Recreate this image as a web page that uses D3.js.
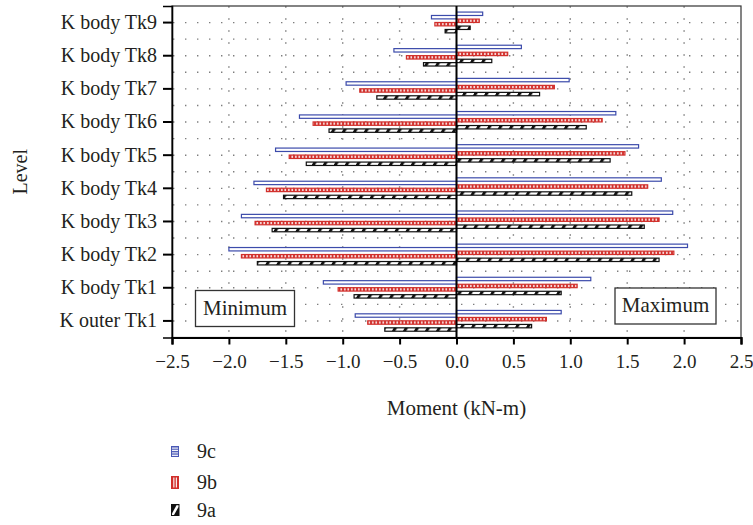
<!DOCTYPE html>
<html>
<head>
<meta charset="utf-8">
<script src="https://cdn.jsdelivr.net/npm/d3@7"></script>
<style>
  body { margin: 0; background: #fff; }
  svg { display: block; }
  text { font-family: "Liberation Serif", "Times New Roman", serif; fill: #231f20; }
</style>
</head>
<body>
<svg id="chart" width="753" height="525"></svg>
<script>
// Levels, top to bottom
const levels = ["K body Tk9", "K body Tk8", "K body Tk7", "K body Tk6", "K body Tk5",
                "K body Tk4", "K body Tk3", "K body Tk2", "K body Tk1", "K outer Tk1"];
const seriesNames = ["9c", "9b", "9a"];

// Minimum moments (kN-m)
const min9c = [-0.22, -0.55, -0.97, -1.38, -1.59, -1.78, -1.89, -2.00, -1.17, -0.89];
const min9b = [-0.19, -0.44, -0.85, -1.26, -1.47, -1.67, -1.77, -1.89, -1.04, -0.78];
const min9a = [-0.10, -0.29, -0.70, -1.12, -1.32, -1.52, -1.62, -1.75, -0.90, -0.63];
// Maximum moments (kN-m)
const max9c = [0.23, 0.57, 0.99, 1.40, 1.60, 1.80, 1.90, 2.03, 1.18, 0.92];
const max9b = [0.20, 0.45, 0.86, 1.28, 1.48, 1.68, 1.78, 1.91, 1.06, 0.79];
const max9a = [0.12, 0.31, 0.73, 1.14, 1.35, 1.54, 1.65, 1.78, 0.92, 0.66];

const xTicks = [-2.5, -2.0, -1.5, -1.0, -0.5, 0.0, 0.5, 1.0, 1.5, 2.0, 2.5];

const svg = d3.select("#chart");
const plot = { left: 172, right: 741, top: 6, bottom: 337.5 };

const x = d3.scaleLinear().domain([-2.5, 2.5]).range([plot.left, plot.right]);
const y = d3.scaleBand().domain(levels).range([plot.top, plot.bottom]).padding(0);
// position of each series inside a level band
const sub = d3.scalePoint().domain(seriesNames).range([-7, 7]);
const sideShift = { max: -1.8, min: 1.6 };
const barH = 3.4;

// ---- patterns ----
const defs = svg.append("defs");
const pB = defs.append("pattern").attr("id", "fill9b").attr("patternUnits", "userSpaceOnUse")
  .attr("width", 3.5).attr("height", 10);
pB.append("rect").attr("width", 3.5).attr("height", 10).attr("fill", "#d12f2b");
pB.append("rect").attr("x", 1.1).attr("width", 1.4).attr("height", 10).attr("fill", "#fff");

const pA = defs.append("pattern").attr("id", "fill9a").attr("patternUnits", "userSpaceOnUse")
  .attr("width", 11).attr("height", 10).attr("patternTransform", "skewX(-30)");
pA.append("rect").attr("width", 11).attr("height", 10).attr("fill", "#fff");
pA.append("rect").attr("width", 3.4).attr("height", 10).attr("fill", "#111");

const styles = {
  "9c": { fill: "#fff", stroke: "#3c4bab" },
  "9b": { fill: "url(#fill9b)", stroke: "#d12f2b" },
  "9a": { fill: "url(#fill9a)", stroke: "#111" }
};

// ---- dotted grid ----
const grid = svg.append("g").attr("stroke", "#7d7d7d").attr("stroke-width", 1.4);
const bw = y.bandwidth();
const rows = d3.range(1, levels.length * 2).map(i => plot.top + i * bw / 2);
grid.selectAll("line.h").data(rows).join("line")
  .attr("x1", plot.left + 1).attr("x2", plot.right)
  .attr("y1", d => d).attr("y2", d => d)
  .attr("stroke-dasharray", "1.4,10.6");
grid.selectAll("line.v").data(xTicks.filter(t => t !== 0 && Math.abs(t) < 2.5)).join("line")
  .attr("x1", d => x(d)).attr("x2", d => x(d))
  .attr("y1", plot.top + 0.3).attr("y2", plot.bottom)
  .attr("stroke-dasharray", "1.4,10.6");

// ---- frame ----
svg.append("rect").attr("x", plot.left).attr("y", plot.top)
  .attr("width", plot.right - plot.left).attr("height", plot.bottom - plot.top)
  .attr("fill", "none").attr("stroke", "#333").attr("stroke-width", 1.2);

// ---- bars ----
const sets = [
  { side: "min", series: "9c", values: min9c },
  { side: "min", series: "9b", values: min9b },
  { side: "min", series: "9a", values: min9a },
  { side: "max", series: "9c", values: max9c },
  { side: "max", series: "9b", values: max9b },
  { side: "max", series: "9a", values: max9a }
];
sets.forEach(s => {
  svg.append("g").selectAll("rect").data(s.values.map((v, i) => ({ level: levels[i], v })))
    .join("rect")
    .attr("x", d => Math.min(x(0), x(d.v)))
    .attr("width", d => Math.abs(x(d.v) - x(0)))
    .attr("y", d => y(d.level) + bw / 2 + sub(s.series) + sideShift[s.side] - barH / 2)
    .attr("height", barH)
    .attr("fill", styles[s.series].fill)
    .attr("stroke", styles[s.series].stroke)
    .attr("stroke-width", 1.2);
});

// zero line
svg.append("line").attr("x1", x(0)).attr("x2", x(0))
  .attr("y1", plot.top).attr("y2", plot.bottom)
  .attr("stroke", "#000").attr("stroke-width", 2);

// ---- axes ----
const xAxis = svg.append("g").attr("transform", `translate(0,${plot.bottom})`)
  .call(d3.axisBottom(x).tickValues(xTicks).tickSize(7).tickPadding(10)
    .tickFormat(d => d3.format(".1f")(d).replace("-", "\u2212")));
xAxis.select(".domain").attr("stroke", "#000").attr("stroke-width", 2.2);
xAxis.selectAll(".tick line").attr("stroke", "#000").attr("stroke-width", 2);
xAxis.selectAll("text").attr("font-size", 19).attr("fill", "#231f20")
  .style("font-family", "'Liberation Serif', serif");

const yAxis = svg.append("g").attr("transform", `translate(${plot.left},0)`)
  .call(d3.axisLeft(y).tickSize(9).tickPadding(6));
yAxis.select(".domain").attr("stroke", "#000").attr("stroke-width", 1.6);
yAxis.selectAll(".tick line").attr("stroke", "#000").attr("stroke-width", 2);
yAxis.selectAll("text").attr("font-size", 20).attr("fill", "#231f20")
  .style("font-family", "'Liberation Serif', serif");

// axis titles
svg.append("text").attr("x", x(0)).attr("y", 415).attr("text-anchor", "middle")
  .attr("font-size", 21).text("Moment (kN-m)");
svg.append("text").attr("transform", `translate(27,${(plot.top + plot.bottom) / 2}) rotate(-90)`)
  .attr("text-anchor", "middle").attr("font-size", 20).text("Level");

// ---- Minimum / Maximum boxes ----
const boxes = [
  { label: "Minimum", x: 195.5, y: 290.5, w: 99, h: 36 },
  { label: "Maximum", x: 615, y: 288, w: 101, h: 36 }
];
const bg = svg.append("g").selectAll("g").data(boxes).join("g");
bg.append("rect").attr("x", d => d.x).attr("y", d => d.y).attr("width", d => d.w).attr("height", d => d.h)
  .attr("fill", "#fff").attr("stroke", "#333").attr("stroke-width", 1.3);
bg.append("text").attr("x", d => d.x + d.w / 2).attr("y", d => d.y + 24)
  .attr("text-anchor", "middle").attr("font-size", 21).text(d => d.label);

// ---- legend ----
const lg = defs;
const lC = lg.append("pattern").attr("id", "leg9c").attr("patternUnits", "userSpaceOnUse")
  .attr("width", 8).attr("height", 2.4);
lC.append("rect").attr("width", 8).attr("height", 2.4).attr("fill", "#fff");
lC.append("rect").attr("width", 8).attr("height", 1.3).attr("fill", "#4a58b5");
const lB = lg.append("pattern").attr("id", "leg9b").attr("patternUnits", "userSpaceOnUse")
  .attr("x", 171).attr("width", 2.9).attr("height", 10);
lB.append("rect").attr("width", 2.9).attr("height", 10).attr("fill", "#d12f2b");
lB.append("rect").attr("x", 1.9).attr("width", 1).attr("height", 10).attr("fill", "#fff");

const legendRows = [
  { name: "9c", cy: 451 },
  { name: "9b", cy: 482 },
  { name: "9a", cy: 510 }
];
const leg = svg.append("g").selectAll("g").data(legendRows).join("g")
  .attr("transform", d => `translate(171,${d.cy})`);
leg.each(function (d) {
  const g = d3.select(this);
  if (d.name === "9c") {
    g.append("rect").attr("x", 0.5).attr("y", -4.5).attr("width", 7).attr("height", 10)
      .attr("fill", "url(#leg9c)").attr("stroke", "#4a58b5").attr("stroke-width", 1);
  } else if (d.name === "9b") {
    g.append("rect").attr("x", 0.5).attr("y", -5.5).attr("width", 7).attr("height", 12)
      .attr("fill", "#d12f2b").attr("stroke", "#d12f2b").attr("stroke-width", 1);
    g.append("rect").attr("x", 2.3).attr("y", -4.5).attr("width", 1.1).attr("height", 10).attr("fill", "#fff");
    g.append("rect").attr("x", 4.8).attr("y", -4.5).attr("width", 1.1).attr("height", 10).attr("fill", "#fff");
  } else {
    g.append("rect").attr("x", 0.5).attr("y", -5.5).attr("width", 7.5).attr("height", 11)
      .attr("fill", "#111").attr("stroke", "#111").attr("stroke-width", 1);
    g.append("path").attr("d", "M1,3.5 L5.5,-4.8 L7.5,-4.8 L7.5,-3 L3,5 L1,5 Z").attr("fill", "#fff");
  }
  g.append("text").attr("x", 26).attr("y", 7).attr("font-size", 20).text(d.name);
});
</script>
</body>
</html>
